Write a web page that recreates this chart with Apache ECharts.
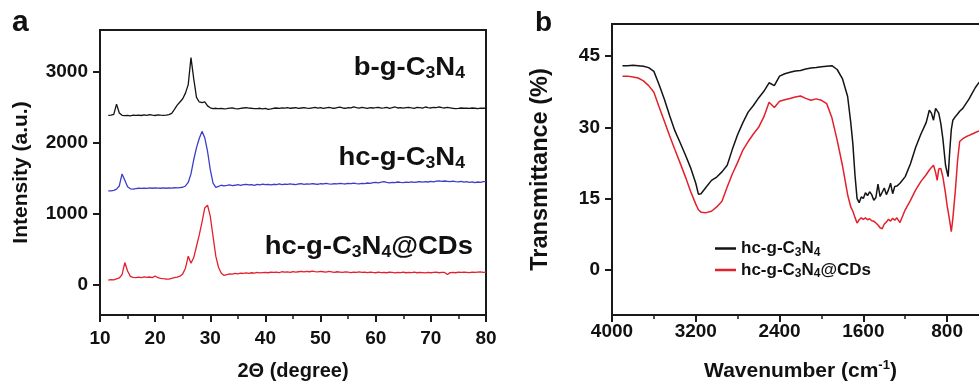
<!DOCTYPE html>
<html>
<head>
<meta charset="utf-8">
<script src="https://cdn.jsdelivr.net/npm/echarts@6/dist/echarts.min.js"></script>
<style>
  html, body { margin: 0; padding: 0; background: #fff; }
  #box { width: 979px; height: 383px; }
</style>
</head>
<body>
<div id="box"></div>
<script>
// ---- panel a : XRD ----
const xrdTheta = [
  11.5, 12, 12.5, 13, 13.5, 14, 14.5, 15, 15.5, 16,
  16.5, 17, 17.5, 18, 18.5, 19, 19.5, 20, 20.5, 21,
  21.5, 22, 22.5, 23, 23.5, 24, 24.5, 25, 25.5, 26,
  26.5, 27, 27.5, 28, 28.5, 29, 29.5, 30, 30.5, 31,
  31.5, 32, 32.5, 33, 33.5, 34, 34.5, 35, 35.5, 36,
  36.5, 37, 37.5, 38, 38.5, 39, 39.5, 40, 40.5, 41,
  41.5, 42, 42.5, 43, 43.5, 44, 44.5, 45, 45.5, 46,
  46.5, 47, 47.5, 48, 48.5, 49, 49.5, 50, 50.5, 51,
  51.5, 52, 52.5, 53, 53.5, 54, 54.5, 55, 55.5, 56,
  56.5, 57, 57.5, 58, 58.5, 59, 59.5, 60, 60.5, 61,
  61.5, 62, 62.5, 63, 63.5, 64, 64.5, 65, 65.5, 66,
  66.5, 67, 67.5, 68, 68.5, 69, 69.5, 70, 70.5, 71,
  71.5, 72, 72.5, 73, 73.5, 74, 74.5, 75, 75.5, 76,
  76.5, 77, 77.5, 78, 78.5, 79, 79.5, 80
];
const xrdBulk = [
  2385, 2388, 2400, 2545, 2420, 2386, 2382, 2385, 2380, 2388,
  2385, 2390, 2384, 2392, 2386, 2398, 2388, 2384, 2394, 2389,
  2385, 2390, 2396, 2415, 2470, 2530, 2575, 2620, 2700, 2820,
  3200, 2900, 2640, 2575, 2565, 2575, 2520, 2492, 2482, 2486,
  2480, 2484, 2478, 2482, 2488, 2492, 2480, 2476, 2484, 2490,
  2494, 2488, 2486, 2480, 2482, 2486, 2478, 2484, 2470, 2476,
  2486, 2490, 2484, 2492, 2488, 2496, 2486, 2490, 2494, 2484,
  2490, 2496, 2488, 2484, 2492, 2500, 2488, 2494, 2486, 2492,
  2498, 2490, 2486, 2494, 2502, 2490, 2486, 2496, 2492, 2504,
  2494, 2488, 2498, 2492, 2486, 2496, 2490, 2494, 2500, 2488,
  2492, 2498, 2486, 2494, 2504, 2490, 2496, 2488, 2494, 2500,
  2492, 2486, 2498, 2494, 2488, 2504, 2496, 2490, 2500, 2494,
  2504, 2496, 2490, 2498, 2492, 2486, 2480, 2484, 2490, 2486,
  2488, 2484, 2490, 2486, 2482, 2488, 2486, 2488
];
const xrdHollow = [
  1320, 1322, 1328, 1345, 1390, 1560, 1470, 1380, 1350, 1345,
  1352, 1358, 1355, 1360, 1356, 1362, 1358, 1364, 1360, 1358,
  1362, 1358, 1364, 1360, 1365, 1362, 1368, 1372, 1390, 1440,
  1560, 1760, 1930, 2060, 2160, 2070, 1880, 1620, 1430, 1370,
  1385, 1400, 1392, 1398, 1405, 1394, 1400, 1410, 1398, 1408,
  1414, 1404, 1410, 1400, 1412, 1406, 1416, 1408, 1412, 1404,
  1414, 1410, 1418, 1408, 1416, 1412, 1420, 1414, 1410, 1418,
  1422, 1414, 1420, 1416, 1424, 1418, 1414, 1422, 1418, 1426,
  1420, 1416, 1424, 1420, 1428, 1422, 1418, 1426, 1422, 1430,
  1424, 1420, 1428, 1424, 1432, 1426, 1436, 1440, 1434, 1444,
  1450, 1440, 1434, 1442, 1438, 1446, 1440, 1436, 1444, 1440,
  1448, 1442, 1446, 1452, 1444, 1450, 1446, 1454, 1448, 1458,
  1462, 1454, 1460, 1456, 1450, 1458, 1452, 1448, 1456, 1444,
  1450, 1442, 1448, 1436, 1446, 1440, 1450, 1452
];
const xrdCDs = [
  62, 70, 66, 80, 92, 140, 310, 190, 115, 100,
  96, 104, 98, 108, 100, 106, 98, 120, 96, 88,
  82, 78, 76, 86, 96, 104, 118, 150, 230, 400,
  300, 380, 540, 700, 880, 1080, 1120, 960, 680, 400,
  240, 160, 128, 140, 150, 146, 156, 150, 160, 158,
  164, 158, 166, 162, 170, 164, 168, 172, 166, 174,
  170, 176, 168, 180, 174, 178, 172, 182, 176, 180,
  184, 178, 186, 180, 190, 182, 178, 186, 180, 176,
  184, 178, 172, 180, 176, 170, 178, 174, 168, 176,
  172, 178, 170, 174, 168, 176, 170, 166, 174, 168,
  172, 166, 174, 170, 164, 172, 168, 174, 166, 170,
  168, 174, 166, 172, 168, 164, 172, 166, 170, 174,
  166, 172, 170, 140, 168, 172, 166, 174, 170, 176,
  172, 168, 176, 170, 174, 178, 172, 176
];
const xrdYTicks = [0, 1000, 2000, 3000];

// ---- panel b : FTIR ----
const ftirWave = [
  3900, 3850, 3800, 3750, 3700, 3650, 3600, 3550, 3500, 3450,
  3400, 3350, 3300, 3250, 3200, 3175, 3150, 3100, 3050, 3000,
  2950, 2900, 2850, 2800, 2750, 2700, 2650, 2600, 2550, 2500,
  2450, 2400, 2350, 2300, 2250, 2200, 2150, 2100, 2050, 2000,
  1950, 1900, 1850, 1800, 1750, 1720, 1700, 1680, 1660, 1640,
  1620, 1600, 1580, 1560, 1540, 1520, 1500, 1480, 1460, 1440,
  1420, 1400, 1380, 1360, 1340, 1320, 1300, 1280, 1250, 1200,
  1150, 1100, 1050, 1000, 970, 950, 930, 910, 895, 880,
  860, 840, 815, 800, 790, 775, 760, 745, 720, 700,
  680, 650, 620, 590, 560, 530, 500, 470
];
const ftirHollow = [
  43.0, 43.0, 43.1, 43.0, 42.9, 42.6, 41.8, 39.0, 35.9, 32.5,
  29.3, 26.8, 24.2, 21.5, 18.2, 15.9, 16.0, 17.4, 18.8, 19.5,
  20.6, 22.0, 25.4, 28.5, 31.0, 33.2, 34.6, 36.2, 37.6, 39.4,
  38.8, 40.8, 41.3, 41.6, 41.9, 42.0, 42.3, 42.5, 42.6, 42.8,
  42.9, 43.0, 42.2, 40.3, 36.5, 31.0, 26.5, 20.0, 15.0, 14.1,
  15.3, 15.0, 16.2, 15.6, 16.4, 15.8, 14.6, 15.2, 18.0, 15.4,
  16.3, 17.2, 15.8, 16.8, 18.2, 16.0, 17.5, 17.6, 18.2, 19.6,
  22.3, 25.8, 28.6, 31.0, 33.6, 33.0, 31.5, 34.0, 33.8, 33.0,
  30.8, 27.5, 22.0, 20.5, 19.6, 25.0, 29.5, 31.5, 32.3, 32.8,
  33.4, 34.0, 35.0, 36.0, 37.2, 38.4, 39.3, 40.1
];
const ftirCDs = [
  40.8, 40.8, 40.6, 40.4, 39.8, 38.8, 37.4, 34.3, 31.3, 28.2,
  25.3, 22.5, 19.6, 16.5, 13.8, 12.6, 12.1, 12.0, 12.3, 13.2,
  14.4, 17.4, 20.2, 22.6, 25.2, 27.0, 28.6, 30.0, 32.2, 35.3,
  34.2, 35.5, 35.8, 36.1, 36.4, 36.6, 36.1, 35.7, 36.0, 35.7,
  35.0, 32.0, 27.3, 22.0, 15.8, 13.2, 12.3, 11.0, 9.8, 10.5,
  10.9, 10.6, 10.9, 10.5, 10.7, 10.3, 10.2, 9.8, 9.4, 8.8,
  8.6, 9.6, 10.0, 10.6, 10.2, 10.8, 10.4, 10.9, 9.9, 12.6,
  14.6, 16.8, 18.6, 20.0, 21.0, 21.5, 22.0, 20.5, 18.8, 21.2,
  21.3, 19.5, 16.0, 13.5, 12.2, 10.2, 8.0, 10.8, 17.0, 23.0,
  27.0, 27.6, 28.0, 28.3, 28.6, 28.9, 29.2, 29.4
];
const ftirXLabels = [4000, 3200, 2400, 1600, 800];
const ftirXMinor = [3600, 2800, 2000, 1200, 400];
const ftirYTicks = [0, 15, 30, 45];

const FONT = '"Liberation Sans", Arial, sans-serif';
const INK = "#111";

function zip(xs, ys) {
  return xs.map((x, i) => [x, ys[i]]);
}

// sub/superscript styles for rich text
function richSub(big, small, lh) {
  return {
    n: { fontSize: big, fontWeight: "bold", fontFamily: FONT, color: INK, fill: INK, lineHeight: lh },
    s: { fontSize: small, fontWeight: "bold", fontFamily: FONT, color: INK, fill: INK, lineHeight: small + 2, verticalAlign: "bottom" },
    p: { fontSize: small, fontWeight: "bold", fontFamily: FONT, color: INK, fill: INK, lineHeight: small, verticalAlign: "top" },
  };
}

function bigLabel(x, y, text) {
  return {
    type: "text",
    x: x,
    y: y,
    scaleX: 1.1,
    style: {
      text: text,
      rich: richSub(25, 16, 28),
      fill: INK,
      font: "bold 25px " + FONT,
      textAlign: "right",
      textVerticalAlign: "middle",
    },
  };
}

const plain = (v) => String(v);
const axisLine = { show: true, onZero: false, lineStyle: { color: "#1a1a1a", width: 2 } };
const tickStyle = { color: "#1a1a1a", width: 2 };
const labelStyle = { color: INK, fontSize: 19, fontWeight: "bold", fontFamily: FONT, formatter: plain };

let chart = echarts.init(document.getElementById("box"));

let option = {
  animation: false,
  backgroundColor: "#fff",
  grid: [
    { left: 100, top: 30, width: 386, height: 285, outerBoundsMode: "none", containLabel: false,
      show: true, borderColor: "#1a1a1a", borderWidth: 2 },
    { left: 612, top: 24, width: 377, height: 291, outerBoundsMode: "none", containLabel: false,
      show: true, borderColor: "#1a1a1a", borderWidth: 2 },
  ],
  xAxis: [
    {
      gridIndex: 0,
      type: "value",
      position: "bottom",
      min: 10,
      max: 80,
      interval: 10,
      axisLine: axisLine,
      axisTick: { length: 7, lineStyle: tickStyle },
      minorTick: { show: true, splitNumber: 2, length: 4, lineStyle: { color: "#1a1a1a", width: 1.5 } },
      axisLabel: Object.assign({ margin: 14 }, labelStyle),
      splitLine: { show: false },
      name: "2Θ (degree)",
      nameLocation: "middle",
      nameGap: 46,
      nameTextStyle: { color: INK, fontSize: 20, fontWeight: "bold", fontFamily: FONT },
    },
    {
      gridIndex: 1,
      type: "value",
      position: "bottom",
      min: 400,
      max: 4000,
      inverse: true,
      axisLine: axisLine,
      axisTick: { length: 7, lineStyle: tickStyle, customValues: ftirXLabels },
      axisLabel: Object.assign({ margin: 7, customValues: ftirXLabels }, labelStyle),
      splitLine: { show: false },
      name: "{n|Wavenumber (cm}{p|-1}{n|)}",
      nameLocation: "middle",
      nameGap: 44,
      nameTextStyle: { rich: richSub(21, 13, 24) },
    },
    {
      // minor ticks of panel b
      gridIndex: 1,
      type: "value",
      position: "bottom",
      min: 400,
      max: 4000,
      inverse: true,
      axisLine: { show: false, onZero: false },
      axisTick: { length: 4, lineStyle: { color: "#1a1a1a", width: 1.5 }, customValues: ftirXMinor },
      axisLabel: { show: false },
      splitLine: { show: false },
    },
  ],
  yAxis: [
    {
      gridIndex: 0,
      type: "value",
      position: "left",
      min: -430,
      max: 3590,
      axisLine: axisLine,
      axisTick: { length: 7, lineStyle: tickStyle, customValues: xrdYTicks },
      axisLabel: Object.assign({ margin: 12, customValues: xrdYTicks }, labelStyle),
      splitLine: { show: false },
      name: "Intensity (a.u.)",
      nameLocation: "middle",
      nameGap: 68,
      nameTextStyle: { color: INK, fontSize: 21, fontWeight: "bold", fontFamily: FONT },
    },
    {
      gridIndex: 1,
      type: "value",
      position: "left",
      min: -9.6,
      max: 51.8,
      axisLine: axisLine,
      axisTick: { length: 7, lineStyle: tickStyle, customValues: ftirYTicks },
      axisLabel: Object.assign({ margin: 12, customValues: ftirYTicks }, labelStyle),
      splitLine: { show: false },
      name: "Transmittance (%)",
      nameLocation: "middle",
      nameGap: 59,
      nameTextStyle: { color: INK, fontSize: 23.5, fontWeight: "bold", fontFamily: FONT },
    },
  ],
  legend: {
    data: ["hc-g-C3N4", "hc-g-C3N4@CDs"],
    orient: "vertical",
    left: 710,
    top: 235,
    icon: "rect",
    itemWidth: 21,
    itemHeight: 2.5,
    itemGap: 3,
    formatter: function (name) {
      return name === "hc-g-C3N4"
        ? "{n|hc-g-C}{s|3}{n|N}{s|4}"
        : "{n|hc-g-C}{s|3}{n|N}{s|4}{n|@CDs}";
    },
    textStyle: { rich: richSub(17, 12, 20) },
  },
  series: [
    {
      name: "hc-g-C3N4",
      type: "line",
      xAxisIndex: 1,
      yAxisIndex: 1,
      symbol: "none",
      lineStyle: { color: "#141414", width: 1.5 },
      itemStyle: { color: "#141414" },
      data: zip(ftirWave, ftirHollow),
    },
    {
      name: "hc-g-C3N4@CDs",
      type: "line",
      xAxisIndex: 1,
      yAxisIndex: 1,
      symbol: "none",
      lineStyle: { color: "#e3202c", width: 1.5 },
      itemStyle: { color: "#e3202c" },
      data: zip(ftirWave, ftirCDs),
    },
    {
      name: "XRD b-g-C3N4",
      type: "line",
      xAxisIndex: 0,
      yAxisIndex: 0,
      symbol: "none",
      lineStyle: { color: "#141414", width: 1.3 },
      data: zip(xrdTheta, xrdBulk),
    },
    {
      name: "XRD hc-g-C3N4",
      type: "line",
      xAxisIndex: 0,
      yAxisIndex: 0,
      symbol: "none",
      lineStyle: { color: "#3d3dcc", width: 1.3 },
      data: zip(xrdTheta, xrdHollow),
    },
    {
      name: "XRD hc-g-C3N4@CDs",
      type: "line",
      xAxisIndex: 0,
      yAxisIndex: 0,
      symbol: "none",
      lineStyle: { color: "#e3202c", width: 1.3 },
      data: zip(xrdTheta, xrdCDs),
    },
  ],
  graphic: [
    // panel letters
    { type: "text", x: 12, y: 23, style: { text: "a", fill: INK, font: "bold 30px " + FONT, textVerticalAlign: "middle" } },
    { type: "text", x: 535, y: 23, style: { text: "b", fill: INK, font: "bold 28px " + FONT, textVerticalAlign: "middle" } },
    // sample labels in panel a
    bigLabel(465, 68, "{n|b-g-C}{s|3}{n|N}{s|4}"),
    bigLabel(465, 158, "{n|hc-g-C}{s|3}{n|N}{s|4}"),
    bigLabel(473, 247, "{n|hc-g-C}{s|3}{n|N}{s|4}{n|@CDs}"),
  ],
};

chart.setOption(option);
</script>
</body>
</html>
